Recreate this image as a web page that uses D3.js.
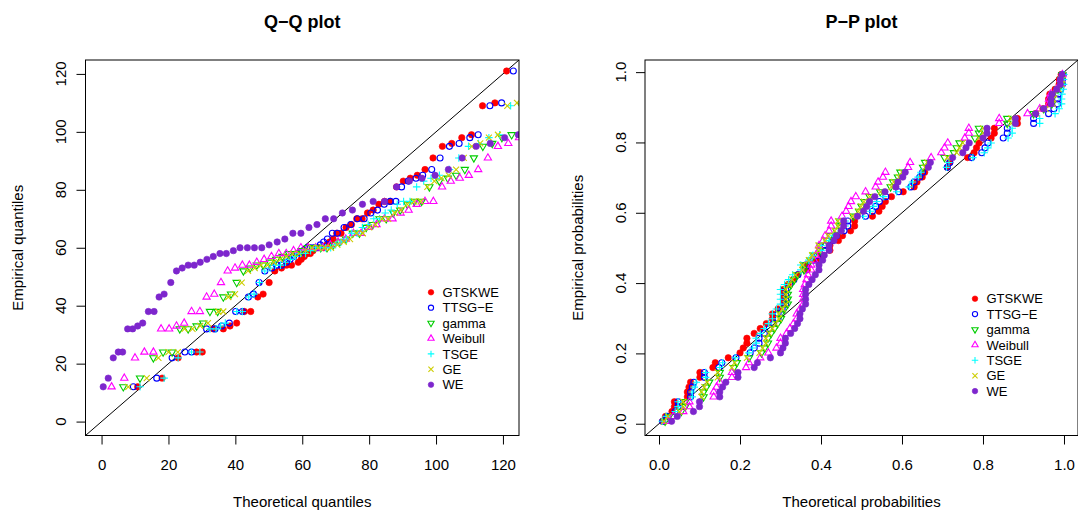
<!DOCTYPE html>
<html>
<head>
<meta charset="utf-8">
<script src="https://cdn.jsdelivr.net/npm/d3@7"></script>
<style>
  body { margin: 0; background: #fff; }
  text { font-family: "Liberation Sans", Arial, Helvetica, sans-serif; fill: #000; }
</style>
</head>
<body>
<svg id="chart" width="1078" height="511"></svg>
<script>
// guinea pig survival times (days), sorted
const guineaPigDays = [12, 15, 22, 24, 24, 32, 32, 33, 34, 38, 38, 43, 44, 48, 52, 53, 54, 54, 55, 56,
  57, 58, 58, 59, 60, 60, 60, 60, 61, 62, 63, 65, 65, 67, 68, 70, 70, 72, 73, 75,
  76, 76, 81, 83, 84, 85, 87, 91, 95, 96, 98, 99, 109, 110, 121, 127, 129, 131, 143, 146,
  146, 175, 175, 211, 233, 258, 258, 263, 297, 341, 341, 376];

const empiricalProbs = [0.0069, 0.0208, 0.0347, 0.0486, 0.0625, 0.0764, 0.0903, 0.1042, 0.1181, 0.1319,
  0.1458, 0.1597, 0.1736, 0.1875, 0.2014, 0.2153, 0.2292, 0.2431, 0.2569, 0.2708,
  0.2847, 0.2986, 0.3125, 0.3264, 0.3403, 0.3542, 0.3681, 0.3819, 0.3958, 0.4097,
  0.4236, 0.4375, 0.4514, 0.4653, 0.4792, 0.4931, 0.5069, 0.5208, 0.5347, 0.5486,
  0.5625, 0.5764, 0.5903, 0.6042, 0.6181, 0.6319, 0.6458, 0.6597, 0.6736, 0.6875,
  0.7014, 0.7153, 0.7292, 0.7431, 0.7569, 0.7708, 0.7847, 0.7986, 0.8125, 0.8264,
  0.8403, 0.8542, 0.8681, 0.8819, 0.8958, 0.9097, 0.9236, 0.9375, 0.9514, 0.9653,
  0.9792, 0.9931];

const distinctDays = [12, 15, 22, 24, 32, 33, 34, 38, 43, 44, 48, 52, 53, 54, 55, 56, 57, 58, 59, 60,
  61, 62, 63, 65, 67, 68, 70, 72, 73, 75, 76, 81, 83, 84, 85, 87, 91, 95, 96, 98,
  99, 109, 110, 121, 127, 129, 131, 143, 146, 175, 211, 233, 258, 263, 297, 341, 376];

const seriesNames = ["GTSKWE", "TTSG\u2212E", "gamma", "Weibull", "TSGE", "GE", "WE"];
const seriesColors = ["#FF0000", "#0000FF", "#00CD00", "#FF00FF", "#00FFFF", "#CDCD00", "#7D26CD"];
const seriesMarks = ["dot", "circle", "tridown", "triup", "plus", "cross", "dot"];

// theoretical quantiles (Q-Q), one per rank of the sorted data
const qqGTSKWE = [10.8, 18.1, 22.9, 28.4, 30.1, 33.4, 36.4, 38.4, 40.4, 42.7,
  44.6, 46.7, 48.3, 50.1, 51.8, 53.8, 55.3, 56.8, 58.8, 59.7,
  60.6, 61.5, 62.4, 63.2, 64.0, 64.8, 65.6, 66.4, 67.3, 68.2,
  69.2, 70.3, 71.6, 73.1, 74.7, 76.3, 77.9, 79.5, 81.2, 82.9,
  84.6, 86.3, 88.2, 90.2, 92.3, 94.4, 96.7, 99.1, 101.9, 104.7,
  107.7, 110.6, 113.9, 117.6, 121.1];
const qqTTSGE = [9.5, 16.5, 21.1, 24.9, 26.9, 31.4, 33.9, 35.9, 38.2, 40.1,
  42.1, 43.9, 45.4, 47.1, 48.8, 50.9, 52.3, 53.8, 55.3, 56.4,
  57.4, 58.4, 59.4, 60.4, 61.4, 62.4, 63.4, 64.4, 65.4, 66.4,
  67.5, 69.0, 70.5, 72.5, 74.5, 76.5, 78.5, 80.5, 82.5, 84.5,
  86.3, 88.0, 89.7, 91.7, 94.0, 96.0, 98.7, 101.2, 104.0, 106.9,
  110.1, 112.6, 116.1, 119.6, 123.1];
const qqGamma = [6.5, 11.5, 15.5, 18.4, 21.1, 23.4, 25.9, 28.4, 30.4, 32.4,
  34.7, 36.4, 38.7, 40.4, 42.4, 44.4, 46.4, 48.3, 50.3, 52.2,
  54.1, 56.0, 57.9, 59.8, 61.7, 63.6, 65.5, 67.4, 69.3, 71.2,
  73.1, 75.1, 77.1, 79.1, 81.1, 83.1, 85.1, 87.2, 89.3, 91.4,
  93.5, 95.7, 98.0, 101.0, 103.5, 106.0, 108.6, 111.3, 114.0, 116.8,
  119.7, 122.6, 125.6, 128.7, 131.9];
const qqWeibull = [3.0, 6.8, 10.0, 12.8, 15.5, 17.8, 20.2, 22.4, 24.7, 26.9,
  29.4, 31.4, 33.7, 35.7, 37.7, 39.9, 42.1, 44.2, 46.4, 48.6,
  50.8, 53.0, 55.2, 57.4, 59.6, 61.8, 64.0, 66.2, 68.4, 70.7,
  73.0, 75.3, 77.6, 79.9, 82.2, 84.6, 87.0, 89.4, 91.8, 94.2,
  96.7, 99.2, 101.8, 104.4, 107.1, 109.8, 112.6, 115.5, 118.5, 121.6,
  124.8, 128.1, 131.5, 135.0, 138.6];
const qqTSGE = [11.5, 18.7, 22.9, 26.9, 29.4, 32.4, 34.2, 35.6, 37.0, 40.4,
  42.1, 44.0, 45.6, 47.2, 48.8, 50.4, 52.0, 53.5, 55.0, 56.5,
  58.0, 59.5, 61.0, 62.5, 64.0, 65.5, 67.0, 68.5, 70.0, 71.6,
  73.2, 74.8, 76.4, 78.0, 79.7, 81.4, 83.1, 84.8, 86.6, 88.4,
  90.3, 92.2, 94.2, 96.3, 98.5, 101.0, 104.0, 106.8, 109.7, 112.7,
  115.8, 119.0, 122.3, 125.7, 129.2];
const qqGE = [8.0, 13.5, 17.0, 20.0, 22.8, 24.8, 27.2, 29.5, 31.8, 34.9,
  36.4, 37.9, 39.9, 41.9, 43.8, 45.8, 47.7, 49.6, 51.5, 53.4,
  55.3, 57.2, 59.1, 61.0, 62.9, 64.8, 66.7, 68.6, 70.5, 72.4,
  74.3, 76.2, 78.1, 80.0, 81.9, 83.8, 85.7, 87.6, 89.5, 91.4,
  93.4, 95.4, 97.4, 99.5, 101.6, 103.8, 106.0, 108.3, 110.7, 113.2,
  115.8, 118.5, 121.3, 124.2, 127.2];
const qqWE = [0.5, 2.0, 3.5, 5.0, 6.3, 7.8, 9.3, 10.8, 12.3, 14.0,
  15.7, 17.2, 18.7, 20.7, 22.4, 24.1, 25.9, 27.7, 29.5, 31.5,
  33.4, 35.4, 37.3, 39.4, 41.4, 43.6, 45.7, 47.9, 50.1, 52.5,
  54.8, 57.2, 59.6, 62.0, 64.4, 66.9, 69.4, 72.0, 75.0, 78.0,
  81.2, 84.6, 88.2, 92.0, 95.8, 99.7, 103.7, 107.8, 112.0, 116.2,
  120.5, 124.6, 128.9, 133.3, 137.8];

// theoretical probabilities (P-P), one per distinct data value
const ppGTSKWE = [0.009, 0.016, 0.032, 0.038, 0.070, 0.074, 0.078, 0.101, 0.133, 0.139,
  0.171, 0.200, 0.208, 0.217, 0.235, 0.250, 0.265, 0.280, 0.294, 0.307,
  0.319, 0.331, 0.343, 0.366, 0.389, 0.400, 0.422, 0.443, 0.453, 0.473,
  0.483, 0.527, 0.543, 0.551, 0.559, 0.574, 0.603, 0.630, 0.637, 0.650,
  0.656, 0.712, 0.718, 0.762, 0.778, 0.784, 0.790, 0.820, 0.828, 0.885,
  0.930, 0.948, 0.962, 0.965, 0.978, 0.988, 0.993];
const ppTTSGE = [0.009, 0.020, 0.040, 0.047, 0.078, 0.082, 0.086, 0.112, 0.148, 0.155,
  0.190, 0.225, 0.235, 0.247, 0.260, 0.272, 0.283, 0.294, 0.304, 0.313,
  0.323, 0.333, 0.343, 0.362, 0.381, 0.391, 0.410, 0.429, 0.438, 0.457,
  0.466, 0.510, 0.527, 0.535, 0.544, 0.560, 0.592, 0.622, 0.630, 0.644,
  0.651, 0.712, 0.718, 0.772, 0.797, 0.805, 0.812, 0.850, 0.860, 0.925,
  0.962, 0.975, 0.984, 0.986, 0.992, 0.996, 0.998];
const ppGamma = [0.015, 0.025, 0.055, 0.065, 0.110, 0.117, 0.124, 0.150, 0.185, 0.192,
  0.222, 0.253, 0.261, 0.269, 0.277, 0.285, 0.293, 0.301, 0.310, 0.318,
  0.326, 0.334, 0.342, 0.358, 0.374, 0.382, 0.398, 0.414, 0.422, 0.438,
  0.446, 0.480, 0.494, 0.500, 0.507, 0.520, 0.546, 0.572, 0.578, 0.590,
  0.596, 0.652, 0.657, 0.705, 0.728, 0.735, 0.742, 0.780, 0.790, 0.860,
  0.925, 0.950, 0.970, 0.973, 0.985, 0.993, 0.996];
const ppWeibull = [0.020, 0.035, 0.060, 0.075, 0.135, 0.142, 0.150, 0.180, 0.215, 0.222,
  0.250, 0.270, 0.290, 0.300, 0.315, 0.323, 0.332, 0.340, 0.348, 0.356,
  0.360, 0.364, 0.368, 0.376, 0.383, 0.387, 0.395, 0.405, 0.410, 0.420,
  0.425, 0.452, 0.462, 0.468, 0.474, 0.486, 0.510, 0.535, 0.541, 0.553,
  0.559, 0.615, 0.620, 0.672, 0.697, 0.705, 0.713, 0.755, 0.765, 0.840,
  0.910, 0.940, 0.963, 0.967, 0.982, 0.992, 0.996];
const ppTSGE = [0.008, 0.018, 0.040, 0.047, 0.082, 0.087, 0.092, 0.115, 0.150, 0.157,
  0.188, 0.222, 0.231, 0.240, 0.250, 0.260, 0.270, 0.280, 0.290, 0.300,
  0.310, 0.320, 0.330, 0.350, 0.370, 0.380, 0.400, 0.420, 0.430, 0.450,
  0.460, 0.505, 0.522, 0.530, 0.538, 0.555, 0.587, 0.618, 0.626, 0.640,
  0.647, 0.710, 0.716, 0.775, 0.803, 0.812, 0.820, 0.862, 0.872, 0.940,
  0.978, 0.988, 0.994, 0.995, 0.998, 0.999, 1.000];
const ppGE = [0.012, 0.022, 0.050, 0.060, 0.105, 0.112, 0.119, 0.145, 0.180, 0.187,
  0.217, 0.248, 0.256, 0.264, 0.272, 0.280, 0.288, 0.296, 0.305, 0.313,
  0.321, 0.329, 0.337, 0.354, 0.370, 0.378, 0.394, 0.410, 0.418, 0.434,
  0.442, 0.478, 0.492, 0.499, 0.506, 0.520, 0.547, 0.574, 0.580, 0.593,
  0.600, 0.657, 0.662, 0.712, 0.735, 0.742, 0.750, 0.790, 0.800, 0.870,
  0.932, 0.955, 0.973, 0.976, 0.987, 0.994, 0.997];
const ppWE = [0.031, 0.045, 0.085, 0.100, 0.150, 0.157, 0.165, 0.195, 0.235, 0.243,
  0.275, 0.300, 0.306, 0.312, 0.325, 0.335, 0.342, 0.348, 0.354, 0.362,
  0.370, 0.378, 0.386, 0.395, 0.404, 0.408, 0.420, 0.432, 0.438, 0.450,
  0.456, 0.490, 0.505, 0.513, 0.520, 0.533, 0.558, 0.585, 0.590, 0.602,
  0.608, 0.665, 0.670, 0.725, 0.750, 0.758, 0.766, 0.800, 0.810, 0.880,
  0.930, 0.950, 0.968, 0.971, 0.982, 0.991, 0.995];

const qqTicks = [0, 20, 40, 60, 80, 100, 120];
const ppTicks = [0, 0.2, 0.4, 0.6, 0.8, 1.0];

const qqSeries = [qqGTSKWE, qqTTSGE, qqGamma, qqWeibull, qqTSGE, qqGE, qqWE];
const ppSeries = [ppGTSKWE, ppTTSGE, ppGamma, ppWeibull, ppTSGE, ppGE, ppWE];

const svg = d3.select("#chart");

// R style plotting symbols, s = base radius
function markPath(type, s) {
  if (type === "dot" || type === "circle") {
    const r = type === "dot" ? s * 1.07 : s;
    return `M${-r},0a${r},${r} 0 1,0 ${2 * r},0a${r},${r} 0 1,0 ${-2 * r},0Z`;
  }
  if (type === "triup" || type === "tridown") {
    const t = s * 0.9;
    const r = 1.5551 * t, xc = 1.3468 * t, yc = 0.7776 * t;
    const f = type === "triup" ? 1 : -1;
    return `M0,${-r * f}L${xc},${yc * f}L${-xc},${yc * f}Z`;
  }
  if (type === "plus") {
    const c = 1.25 * s;
    return `M${-c},0H${c}M0,${-c}V${c}`;
  }
  const c = s;
  return `M${-c},${-c}L${c},${c}M${-c},${c}L${c},${-c}`;
}

function styleMark(sel, type, color) {
  if (type === "dot") {
    sel.attr("fill", color).attr("stroke", color).attr("stroke-width", 0.6);
  } else {
    sel.attr("fill", "none").attr("stroke", color).attr("stroke-width", 1.1);
  }
}

function drawPanel(cfg) {
  const { id, x, y, ticks, fmt, title, xlab, ylab, points, legend, ylabX, ytickX } = cfg;
  const [x0, x1] = x.range();
  const [y0, y1] = y.range();

  svg.append("clipPath").attr("id", id)
    .append("rect")
    .attr("x", x0).attr("y", y1)
    .attr("width", x1 - x0).attr("height", y0 - y1);

  const plot = svg.append("g").attr("clip-path", `url(#${id})`);

  // y = x reference line
  const d = x.domain();
  plot.append("line")
    .attr("x1", x(d[0])).attr("y1", y(d[0]))
    .attr("x2", x(d[1])).attr("y2", y(d[1]))
    .attr("stroke", "#000").attr("stroke-width", 1);

  points.forEach((pts, i) => {
    const type = seriesMarks[i];
    const g = plot.append("g");
    g.selectAll("path")
      .data(pts)
      .join("path")
      .attr("d", markPath(type, 3))
      .attr("transform", (p) => `translate(${x(p.x)},${y(p.y)})`)
      .call(styleMark, type, seriesColors[i]);
  });

  // axes: ticks from d3, labels placed the R way
  svg.append("g")
    .attr("transform", `translate(0,${y0})`)
    .call(d3.axisBottom(x).tickValues(ticks).tickSize(9).tickSizeOuter(0).tickFormat(fmt).tickPadding(15))
    .call((g) => g.select(".domain").remove())
    .call((g) => g.selectAll("line").attr("stroke", "#000"))
    .call((g) => g.selectAll("text").attr("font-size", 15).attr("fill", "#000")
      .attr("font-family", '"Liberation Sans", Arial, sans-serif'));

  svg.append("g")
    .attr("transform", `translate(${x0},0)`)
    .call(d3.axisLeft(y).tickValues(ticks).tickSize(9).tickSizeOuter(0).tickFormat(""))
    .call((g) => g.select(".domain").remove())
    .call((g) => g.selectAll("line").attr("stroke", "#000"));

  svg.append("g")
    .selectAll("text")
    .data(ticks)
    .join("text")
    .attr("transform", (t) => `translate(${ytickX},${y(t)}) rotate(-90)`)
    .attr("text-anchor", "middle")
    .attr("font-size", 15)
    .text(fmt);

  svg.append("rect")
    .attr("x", x0).attr("y", y1)
    .attr("width", x1 - x0).attr("height", y0 - y1)
    .attr("fill", "none").attr("stroke", "#000").attr("stroke-width", 1);

  const cx = (x0 + x1) / 2;
  svg.append("text")
    .attr("x", cx).attr("y", 28)
    .attr("text-anchor", "middle")
    .attr("font-size", 18).attr("font-weight", "bold")
    .text(title);

  svg.append("text")
    .attr("x", cx).attr("y", 507)
    .attr("text-anchor", "middle")
    .attr("font-size", 15)
    .text(xlab);

  svg.append("text")
    .attr("transform", `translate(${ylabX},${(y0 + y1) / 2}) rotate(-90)`)
    .attr("text-anchor", "middle")
    .attr("font-size", 15)
    .text(ylab);

  // legend, no box
  const lg = svg.append("g");
  seriesNames.forEach((name, i) => {
    const ly = legend.y + i * 15.4;
    lg.append("path")
      .attr("d", markPath(seriesMarks[i], 2.6))
      .attr("transform", `translate(${legend.x},${ly})`)
      .call(styleMark, seriesMarks[i], seriesColors[i]);
    lg.append("text")
      .attr("x", legend.x + 11.5).attr("y", ly)
      .attr("dy", "0.36em")
      .attr("font-size", 13)
      .text(name);
  });
}

const qqX = d3.scaleLinear().domain([-4.8, 124.8]).range([85.5, 519]);
const qqY = d3.scaleLinear().domain([-4.8, 124.8]).range([435.5, 60]);
const ppX = d3.scaleLinear().domain([-0.0346, 1.0346]).range([645, 1078]);
const ppY = d3.scaleLinear().domain([-0.0335, 1.0345]).range([435.5, 60]);

const qqPoints = qqSeries.map((arr) => arr.map((v, i) => ({ x: v, y: guineaPigDays[i] })));
const ppPoints = ppSeries.map((arr) =>
  guineaPigDays.map((day, i) => ({ x: arr[distinctDays.indexOf(day)], y: empiricalProbs[i] }))
);

drawPanel({
  id: "clipQQ", x: qqX, y: qqY, ticks: qqTicks, fmt: d3.format("d"),
  title: "Q\u2212Q plot", xlab: "Theoretical quantiles", ylab: "Empirical quantiles",
  points: qqPoints, legend: { x: 431, y: 292.3 }, ylabX: 23, ytickX: 66,
});

drawPanel({
  id: "clipPP", x: ppX, y: ppY, ticks: ppTicks, fmt: d3.format(".1f"),
  title: "P\u2212P plot", xlab: "Theoretical probabilities", ylab: "Empirical probabilities",
  points: ppPoints, legend: { x: 975, y: 298.7 }, ylabX: 583, ytickX: 626,
});
</script>
</body>
</html>
